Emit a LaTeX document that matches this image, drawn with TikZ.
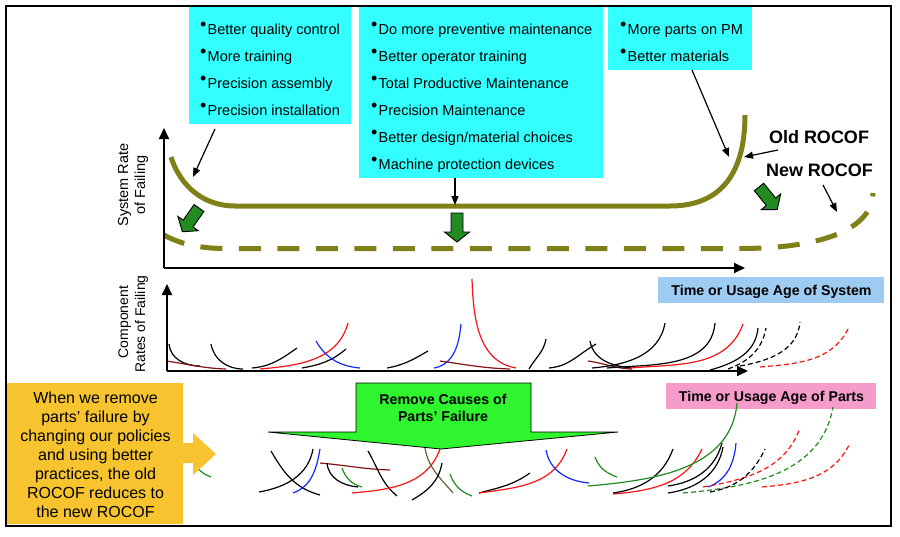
\documentclass[tikz,border=0pt]{standalone}
\usepackage{fontspec}
\setmainfont{Liberation Sans}
\usetikzlibrary{arrows.meta}
\definecolor{olivec}{RGB}{128,128,24}
\definecolor{cyanb}{RGB}{51,255,255}
\definecolor{fatgreen}{RGB}{34,139,34}
\definecolor{callgreen}{RGB}{46,245,46}
\definecolor{yellowb}{RGB}{247,196,48}
\definecolor{blueb}{RGB}{157,203,242}
\definecolor{pinkb}{RGB}{245,156,203}
\definecolor{cred}{RGB}{250,20,20}
\definecolor{cblue}{RGB}{20,40,250}
\definecolor{cbrown}{RGB}{130,20,20}
\definecolor{cgreen}{RGB}{30,140,30}
\definecolor{ckhaki}{RGB}{100,100,60}
\newcommand{\bul}{\makebox[7.5pt][l]{\raisebox{3.5pt}{\fontsize{18}{18}\selectfont\textbullet}}}
\begin{document}
\begin{tikzpicture}[x=1pt,y=-1pt,
  txt/.style={inner sep=0pt, font=\fontsize{14.5}{17}\selectfont},
  btxt/.style={inner sep=0pt, font=\fontsize{14.2}{17}\selectfont\bfseries},
  bigtxt/.style={inner sep=0pt, font=\fontsize{18}{20}\selectfont\bfseries},
  ytxt/.style={inner sep=0pt, font=\fontsize{16}{19}\selectfont},
  ctxt/.style={inner sep=0pt, font=\fontsize{14}{17}\selectfont},
  panel/.style={inner sep=0pt, outer sep=0pt, anchor=north west, draw=none},
  rocof/.style={draw=olivec, line width=5pt},
  pointer/.style={-{Triangle[length=9pt,width=7pt]}, line width=1.2pt},
  axis/.style={-{Triangle[length=11pt,width=10pt]}, line width=1.8pt},
  comp/.style={line width=1.2pt},
  cdash/.style={line width=1.2pt, dash pattern=on 5pt off 3pt},
  fatarrow/.pic={\draw[fill=fatgreen, draw=black, line width=0.9pt, line join=miter]
     (-6,0) -- (6,0) -- (6,19) -- (12.5,19) -- (0,29) -- (-12.5,19) -- (-6,19) -- cycle;}
]
\useasboundingbox (0,0) rectangle (900,536);
\fill[white] (0,0) rectangle (900,536);

% ---------- cyan boxes ----------
\node[panel, fill=cyanb, minimum width=162pt, minimum height=119pt] (box1) at (189,5) {};
\node[panel, fill=cyanb, minimum width=244pt, minimum height=173pt] (box2) at (359,5) {};
\node[panel, fill=cyanb, minimum width=144pt, minimum height=65pt] (box3) at (608,5) {};

\node[txt, anchor=base west] (a1) at (200,34) {\bul Better quality control};
\node[txt, anchor=base west] (a2) at (200,61) {\bul More training};
\node[txt, anchor=base west] (a3) at (200,88) {\bul Precision assembly};
\node[txt, anchor=base west] (a4) at (200,115) {\bul Precision installation};

\node[txt, anchor=base west] (b1) at (371,34) {\bul Do more preventive maintenance};
\node[txt, anchor=base west] (b2) at (371,61) {\bul Better operator training};
\node[txt, anchor=base west] (b3) at (371,88) {\bul Total Productive Maintenance};
\node[txt, anchor=base west] (b4) at (371,115) {\bul Precision Maintenance};
\node[txt, anchor=base west] (b5) at (371,142) {\bul Better design/material choices};
\node[txt, anchor=base west] (b6) at (371,169) {\bul Machine protection devices};

\node[txt, anchor=base west] (c1) at (620,34) {\bul More parts on PM};
\node[txt, anchor=base west] (c2) at (620,61) {\bul Better materials};

% ---------- system ROCOF curves ----------
\draw[rocof] (171,157) .. controls (181,188) and (205,206) .. (235,206) -- (670,206)
   .. controls (717,206) and (745,178) .. (745,115);
\draw[rocof, dash pattern=on 22pt off 16.5pt] (164,235) .. controls (180,244) and (200,248.5) .. (225,248.5)
   -- (740,248.5) .. controls (815,248.5) and (872,232) .. (873,193);

% ---------- upper axes ----------
\coordinate (o1) at (164,268);
\coordinate (y1) at (164,128);
\coordinate (x1) at (745,268);
\draw[axis] (o1) -- (y1);
\draw[axis] (o1) -- (x1);
\node[txt, rotate=90, anchor=base] (sr1) at (128,185) {System Rate};
\node[txt, rotate=90, anchor=base] (sr2) at (145,185) {of Failing};

% ---------- pointers ----------
\coordinate (p1s) at (215,129); \coordinate (p1e) at (193,177);
\coordinate (p2s) at (455,178); \coordinate (p2e) at (455,205);
\coordinate (p3s) at (692,70);  \coordinate (p3e) at (729,157);
\coordinate (p4s) at (778,150); \coordinate (p4e) at (744,157);
\coordinate (p5s) at (823,185); \coordinate (p5e) at (837,212);
\draw[pointer] (p1s) -- (p1e);
\draw[pointer] (p2s) -- (p2e);
\draw[pointer] (p3s) -- (p3e);
\draw[pointer] (p4s) -- (p4e);
\draw[pointer] (p5s) -- (p5e);
\node[bigtxt, anchor=base] (old) at (819,143) {Old ROCOF};
\node[bigtxt, anchor=base] (new) at (819.5,176) {New ROCOF};

% green fat arrows
\pic[rotate=-35] at (199,208) {fatarrow};
\pic at (457,213) {fatarrow};
\pic[rotate=39] at (759,187) {fatarrow};

% ---------- system label ----------
\node[panel, fill=blueb, minimum width=226pt, minimum height=26pt] (sysbox) at (658,277) {};
\node[btxt, anchor=base] (syst) at (771.5,295) {Time or Usage Age of System};

% ---------- component rates ----------
\node[ctxt, rotate=90, anchor=base] (cr1) at (128,322) {Component};
\node[ctxt, rotate=90, anchor=base] (cr2) at (145,324) {Rates of Failing};

\draw[comp] (169,344) to[out=-85,in=180] (200,366);
\draw[comp, cbrown] (166,361) to[out=-8,in=178] (226,369);
\draw[comp] (211,344) to[out=-80,in=180] (243,369);
\draw[comp] (252,368) to[out=5,in=-145] (297,348);
\draw[comp, cred] (260,369) to[out=5,in=-105] (348,323);
\draw[comp] (302,368) to[out=10,in=-140] (346,349);
\draw[comp, cblue] (316,341) to[out=-60,in=175] (360,368);
\draw[comp] (387,368) to[out=10,in=-150] (428,351);
\draw[comp, cblue] (434,368) to[out=10,in=-95] (461,324);
\draw[comp, cbrown] (440,361) to[out=-8,in=178] (510,369);
\draw[comp, cred] (472,279) to[out=-88,in=170] (516,368);
\draw[comp] (529,369) to[out=60,in=-100] (546,339);
\draw[comp] (549,368) to[out=5,in=-150] (596,344);
\draw[comp] (590,341) to[out=-80,in=175] (632,368);
\draw[comp, cbrown] (588,361) to[out=-8,in=178] (632,369);
\draw[comp] (592,368) to[out=5,in=-100] (665,323);
\draw[comp] (607,368) to[out=5,in=-95] (715,323);
\draw[comp, cred] (630,368) to[out=5,in=-110] (743,324);
\draw[comp] (710,370) to[out=15,in=-95] (758,328);
\draw[cdash] (728,369) to[out=20,in=-100] (766,328);
\draw[cdash] (740,366) to[out=10,in=-95] (800,322);
\draw[cdash, cred] (760,367) to[out=5,in=-115] (849,327);

\coordinate (o2) at (167,371);
\coordinate (y2) at (167,284);
\coordinate (x2) at (748,371);
\draw[axis] (o2) -- (y2);
\draw[axis] (o2) -- (x2);

% ---------- parts label ----------
\node[panel, fill=pinkb, minimum width=210pt, minimum height=26pt] (partbox) at (666,383) {};
\node[btxt, anchor=base] (partt) at (771.5,401) {Time or Usage Age of Parts};

% ---------- bottom part curves ----------
\draw[comp, cgreen] (190,457) to[out=-60,in=160] (211,477);
\draw[comp] (271,451) to[out=-60,in=165] (320,495);
\draw[comp] (259,492) to[out=10,in=-100] (313,449);
\draw[comp, cblue] (293,493) to[out=20,in=-100] (320,449);
\draw[comp, cbrown] (320,463) to[out=-5,in=178] (390,470);
\draw[comp] (327,463) to[out=-85,in=175] (358,487);
\draw[comp, cgreen] (342,468) to[out=-70,in=165] (362,487);
\draw[comp] (368,451) to[out=-60,in=140] (397,496);
\draw[comp, cred] (352,493) to[out=5,in=-110] (440,449);
\draw[comp, ckhaki] (425,448) to[out=-80,in=130] (453,493);
\draw[comp] (412,500) to[out=30,in=-100] (442,463);
\draw[comp, cgreen] (450,474) to[out=-70,in=160] (472,496);
\draw[comp] (479,493) to[out=15,in=-145] (530,473);
\draw[comp, cred] (479,493) to[out=8,in=-110] (567,449);
\draw[comp, cblue] (546,450) to[out=-80,in=175] (589,483);
\draw[comp, cgreen] (595,457) to[out=-70,in=160] (617,477);
\draw[comp, cred] (613,494) to[out=5,in=-115] (702,449);
\draw[comp] (613,493) to[out=8,in=-110] (673,449);
\draw[comp] (668,486) to[out=8,in=-105] (722,443);
\draw[comp] (668,493) to[out=8,in=-100] (723,447);
\draw[comp, cblue] (708,487) to[out=20,in=-95] (736,443);
\draw[cdash, cred] (703,487) to[out=10,in=-110] (800,428);
\draw[cdash, cgreen] (683,493) to[out=5,in=-100] (833,407);
\draw[cdash] (710,492) to[out=10,in=-115] (765,449);
\draw[cdash, cred] (762,487) to[out=5,in=-115] (850,443);
\draw[comp, cgreen] (588,486) to[out=5,in=-95] (737,403);

% ---------- green callout ----------
\draw[fill=callgreen, line width=0.8pt, line join=miter] (356,383) -- (531,383) -- (531,432) -- (618,432)
   -- (441,449) -- (268,432) -- (356,432) -- cycle;
\node[btxt, anchor=base] (rm1) at (443,404) {Remove Causes of};
\node[btxt, anchor=base] (rm2) at (443,421) {Parts’ Failure};

% ---------- yellow box ----------
\fill[yellowb] (6,383) -- (183,383) -- (183,443) -- (193,443) -- (193,433) -- (216,454)
   -- (193,475) -- (193,463) -- (183,463) -- (183,524) -- (6,524) -- cycle;
\node[ytxt, anchor=base] (y1t) at (95.5,403) {When we remove};
\node[ytxt, anchor=base] (y2t) at (95.5,422) {parts’ failure by};
\node[ytxt, anchor=base] (y3t) at (95.5,441) {changing our policies};
\node[ytxt, anchor=base] (y4t) at (95.5,460) {and using better};
\node[ytxt, anchor=base] (y5t) at (95.5,479) {practices, the old};
\node[ytxt, anchor=base] (y6t) at (95.5,498) {ROCOF reduces to};
\node[ytxt, anchor=base] (y7t) at (95.5,517) {the new ROCOF};

% ---------- frame ----------
\draw[line width=2pt] (5.5,5.5) rectangle (891,526);
\end{tikzpicture}
\end{document}
